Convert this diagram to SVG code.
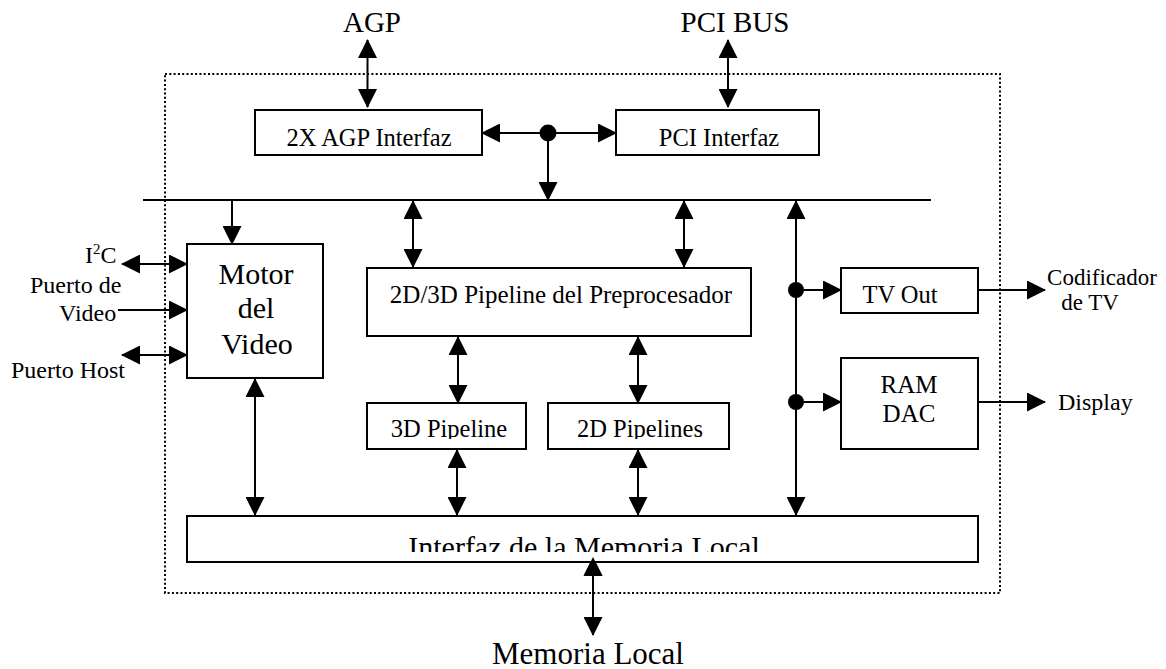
<svg xmlns="http://www.w3.org/2000/svg" width="1166" height="669" viewBox="0 0 1166 669">
  <style>
    text { font-family: "Liberation Serif", "Times New Roman", serif; fill: #000; }
    .box { fill: #fff; stroke: #000; stroke-width: 2; }
    .wire { fill: none; stroke: #000; stroke-width: 2; }
    .arr { fill: none; stroke: #000; stroke-width: 2; marker-end: url(#head); }
    .bi { fill: none; stroke: #000; stroke-width: 2; marker-start: url(#head); marker-end: url(#head); }
    .dot { fill: #000; }
    .frame { fill: none; stroke: #000; stroke-width: 2; stroke-dasharray: 2 2.3; }
  </style>
  <defs>
    <marker id="head" viewBox="0 0 19 19" refX="18" refY="9.5" markerWidth="19" markerHeight="19" markerUnits="userSpaceOnUse" orient="auto-start-reverse">
      <path d="M0,0 L19,9.5 L0,19 z" fill="#000"/>
    </marker>
    <clipPath id="clipMem"><rect x="187" y="516" width="791" height="36"/></clipPath>
    <clipPath id="clip3d"><rect x="367" y="403" width="159" height="36"/></clipPath>
    <clipPath id="clip2d"><rect x="548" y="403" width="181" height="36"/></clipPath>
  </defs>

  <!-- chip boundary -->
  <rect class="frame" x="165" y="74" width="835" height="519"/>

  <!-- external labels -->
  <g id="labels">
    <text x="372" y="32" font-size="29" text-anchor="middle">AGP</text>
    <text x="735" y="32" font-size="29" text-anchor="middle">PCI BUS</text>
    <text x="588" y="664" font-size="31" text-anchor="middle">Memoria Local</text>
    <text x="85" y="263" font-size="24">I<tspan font-size="15" dy="-9">2</tspan><tspan dy="9">C</tspan></text>
    <text x="30" y="293" font-size="24">Puerto de</text>
    <text x="59" y="321" font-size="24">Video</text>
    <text x="11" y="378" font-size="24">Puerto Host</text>
    <text x="1102" y="285" font-size="23" text-anchor="middle">Codificador</text>
    <text x="1090" y="310" font-size="23" text-anchor="middle">de TV</text>
    <text x="1058" y="410" font-size="24">Display</text>
  </g>

  <!-- connectors -->
  <g id="connectors">
    <line class="bi" x1="367.5" y1="40" x2="367.5" y2="107"/>
    <line class="bi" x1="728" y1="40" x2="728" y2="107"/>
    <line class="bi" x1="482" y1="133" x2="616" y2="133"/>
    <line class="arr" x1="548" y1="133" x2="548" y2="200"/>
    <circle class="dot" cx="548" cy="133" r="8.5"/>
    <!-- internal bus -->
    <line class="wire" x1="143" y1="200" x2="931" y2="200"/>
    <line class="arr" x1="232" y1="200" x2="232" y2="244"/>
    <line class="bi" x1="413" y1="201" x2="413" y2="267"/>
    <line class="bi" x1="684" y1="201" x2="684" y2="267"/>
    <line class="bi" x1="796" y1="201" x2="796" y2="515"/>
    <line class="bi" x1="458" y1="337" x2="458" y2="403"/>
    <line class="bi" x1="638" y1="337" x2="638" y2="403"/>
    <line class="bi" x1="255" y1="379" x2="255" y2="515"/>
    <line class="bi" x1="457" y1="450" x2="457" y2="515"/>
    <line class="bi" x1="638" y1="450" x2="638" y2="515"/>
    <line class="bi" x1="593" y1="558" x2="593" y2="635"/>
    <!-- video engine ports -->
    <line class="bi" x1="122" y1="264" x2="187" y2="264"/>
    <line class="arr" x1="118" y1="310" x2="187" y2="310"/>
    <line class="bi" x1="122" y1="355" x2="187" y2="355"/>
    <!-- display outputs -->
    <circle class="dot" cx="796" cy="290" r="8"/>
    <circle class="dot" cx="796" cy="402" r="8"/>
    <line class="arr" x1="796" y1="290" x2="841" y2="290"/>
    <line class="arr" x1="796" y1="402" x2="841" y2="402"/>
    <line class="arr" x1="978" y1="290" x2="1045" y2="290"/>
    <line class="arr" x1="978" y1="402" x2="1045" y2="402"/>
  </g>

  <!-- nodes -->
  <g id="agp-if">
    <rect class="box" x="255" y="110" width="227" height="45"/>
    <text x="369" y="146" font-size="24.5" text-anchor="middle">2X AGP Interfaz</text>
  </g>
  <g id="pci-if">
    <rect class="box" x="616" y="110" width="203" height="45"/>
    <text x="719" y="146" font-size="24.5" text-anchor="middle">PCI Interfaz</text>
  </g>
  <g id="video-engine">
    <rect class="box" x="187" y="244" width="136" height="134"/>
    <text x="256" y="284" font-size="30" text-anchor="middle">Motor</text>
    <text x="256" y="318" font-size="30" text-anchor="middle">del</text>
    <text x="257" y="354" font-size="30" text-anchor="middle">Video</text>
  </g>
  <g id="preprocessor">
    <rect class="box" x="367" y="268" width="384" height="68"/>
    <text x="561" y="303" font-size="25" text-anchor="middle">2D/3D Pipeline del Preprocesador</text>
  </g>
  <g id="pipeline-3d">
    <rect class="box" x="367" y="403" width="159" height="46"/>
    <text x="449" y="437" font-size="24.5" text-anchor="middle" clip-path="url(#clip3d)">3D Pipeline</text>
  </g>
  <g id="pipeline-2d">
    <rect class="box" x="548" y="403" width="181" height="46"/>
    <text x="640" y="437" font-size="24.5" text-anchor="middle" clip-path="url(#clip2d)">2D Pipelines</text>
  </g>
  <g id="tv-out">
    <rect class="box" x="841" y="268" width="137" height="45"/>
    <text x="900" y="303" font-size="24.5" text-anchor="middle">TV Out</text>
  </g>
  <g id="ramdac">
    <rect class="box" x="841" y="358" width="137" height="91"/>
    <text x="909" y="393" font-size="25" text-anchor="middle">RAM</text>
    <text x="909" y="422" font-size="25" text-anchor="middle">DAC</text>
  </g>
  <g id="memory-if">
    <rect class="box" x="187" y="516" width="791" height="46"/>
    <text x="584" y="557" font-size="30" text-anchor="middle" clip-path="url(#clipMem)">Interfaz de la Memoria Local</text>
  </g>
  <!-- memory port arrow tip overlaps the interface box -->
  <path d="M583.5,576 L593,557 L602.5,576 z" fill="#000"/>
</svg>
